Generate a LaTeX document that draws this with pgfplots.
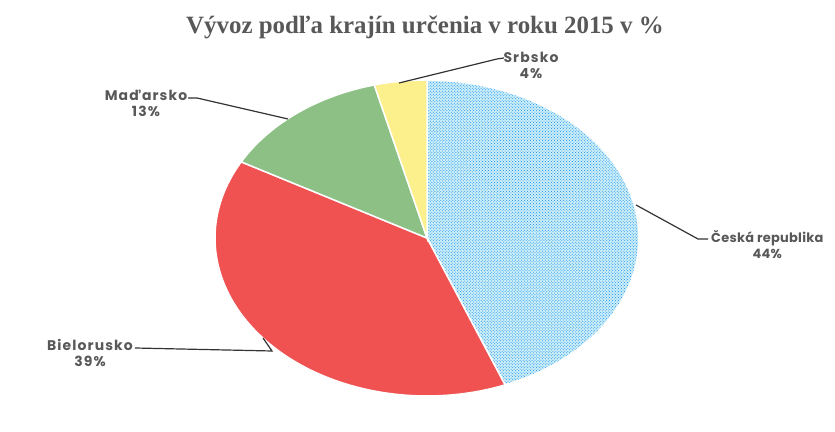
\documentclass[border=0pt]{standalone}
\usepackage{pgfplots}
\pgfplotsset{compat=1.18}
\usepackage{fontspec}
\setmainfont{Liberation Serif}
\newfontfamily\lblfont[LetterSpace=8]{Poppins}
\newfontfamily\lblfontn[LetterSpace=2]{Poppins}
\usetikzlibrary{patterns}
\definecolor{czfill}{RGB}{205,238,246}
\definecolor{czdot}{RGB}{10,140,245}
\definecolor{byfill}{RGB}{240,82,82}
\definecolor{hufill}{RGB}{140,192,132}
\definecolor{rsfill}{RGB}{252,240,140}
\definecolor{txtgray}{RGB}{88,88,88}
% shares in percent
\def\vCZ{44}\def\vBY{39}\def\vHU{13}\def\vRS{4}
\begin{document}
\begin{tikzpicture}
\pgfmathsetmacro\aA{0}
\pgfmathsetmacro\aB{\aA+3.6*\vCZ}
\pgfmathsetmacro\aC{\aB+3.6*\vBY}
\pgfmathsetmacro\aD{\aC+3.6*\vHU}
\pgfmathsetmacro\aE{\aD+3.6*\vRS}
\begin{axis}[
  scale only axis, width=835bp, height=432bp,
  xmin=0, xmax=835, ymin=0, ymax=432,
  axis lines=none, clip=false,
]
\coordinate (ll) at (axis cs:0,0);
\coordinate (ur) at (axis cs:835,432);
% slices: centre (427,194), radii 212 x 158, clockwise from top
\addplot[fill=czfill, draw=white, line width=1.5pt, domain=\aA:\aB, samples=80,
  postaction={pattern=crosshatch dots, pattern color=czdot}]
  ({427+212*sin(x)}, {194+158*cos(x)}) -- (axis cs:427,194) -- cycle;
\addplot[fill=byfill, draw=white, line width=1.5pt, domain=\aB:\aC, samples=80]
  ({427+212*sin(x)}, {194+158*cos(x)}) -- (axis cs:427,194) -- cycle;
\addplot[fill=hufill, draw=white, line width=1.5pt, domain=\aC:\aD, samples=40]
  ({427+212*sin(x)}, {194+158*cos(x)}) -- (axis cs:427,194) -- cycle;
\addplot[fill=rsfill, draw=white, line width=1.5pt, domain=\aD:\aE, samples=20]
  ({427+212*sin(x)}, {194+158*cos(x)}) -- (axis cs:427,194) -- cycle;
% leader lines
\addplot[black!80, line width=1.2pt] coordinates {(399,349) (497,373) (504,374)};
\addplot[black!80, line width=1.2pt] coordinates {(188,334) (197,334) (288,313)};
\addplot[black!80, line width=1.2pt] coordinates {(636,227) (698,193) (708,193)};
\addplot[black!80, line width=1.2pt] coordinates {(135,84) (272,81) (263,94)};
% labels
\node[txtgray, font=\fontsize{25}{28}\selectfont\bfseries] at (axis cs:425,405) {Vývoz podľa krajín určenia v roku 2015 v \%};
\node[txtgray, font=\lblfont\fontsize{14}{16}\selectfont\bfseries, align=center] at (axis cs:531,367) {Srbsko\\4\%};
\node[txtgray, font=\lblfont\fontsize{14}{16}\selectfont\bfseries, align=center] at (axis cs:146,329) {Maďarsko\\13\%};
\node[txtgray, font=\lblfontn\fontsize{13}{16}\selectfont\bfseries, align=center, anchor=west, inner sep=0pt] at (axis cs:711,188) {Česká republika\\44\%};
\node[txtgray, font=\lblfont\fontsize{14}{16}\selectfont\bfseries, align=center] at (axis cs:90,79) {Bielorusko\\39\%};
\end{axis}
\pgfresetboundingbox
\path[use as bounding box] (ll) rectangle (ur);
\end{tikzpicture}
\end{document}
